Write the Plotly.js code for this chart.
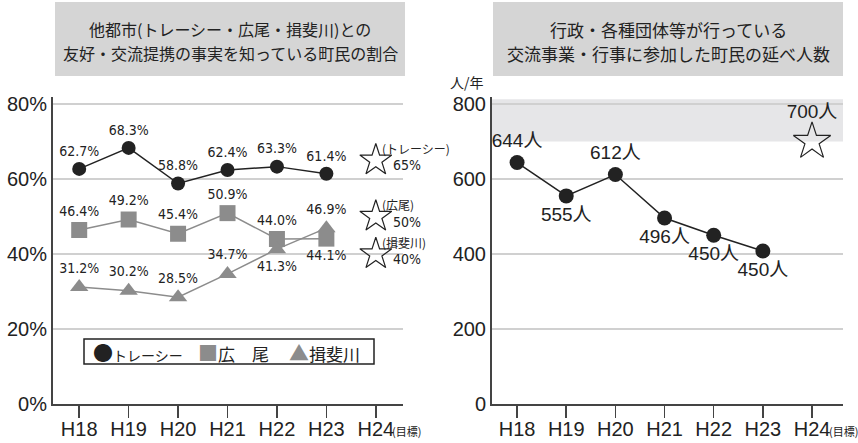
<!DOCTYPE html>
<html>
<head>
<meta charset="utf-8">
<script src="https://cdn.plot.ly/plotly-3.0.1.min.js"></script>
<style>html,body{margin:0;padding:0;background:#fff;}#chart{width:858px;height:443px;}</style>
</head>
<body>
<div id="chart"></div>
<script>
// ---- data ----
const yearTicks = ["H18", "H19", "H20", "H21", "H22", "H23", "H24"];
const years = ["H18", "H19", "H20", "H21", "H22", "H23"];
const tracy = [62.7, 68.3, 58.8, 62.4, 63.3, 61.4];
const hiroo = [46.4, 49.2, 45.4, 50.9, 44.0, 44.1];
const ibigawa = [31.2, 30.2, 28.5, 34.7, 41.3, 46.9];
const targetYear = "H24";
const targetPct = [65, 50, 40];
const targetNames = ["(トレーシー)", "(広尾)", "(揖斐川)"];
const legendNames = ["トレーシー", "広　尾", "揖斐川"];
const visitors = [644, 555, 612, 496, 450, 408];
const visitorLabels = ["644人", "555人", "612人", "496人", "450人", "450人"];
const visitorTarget = 700;
const pctTicks = [0, 20, 40, 60, 80];
const visTicks = [0, 200, 400, 600, 800];
const titleLeft = ["他都市(トレーシー・広尾・揖斐川)との", "友好・交流提携の事実を知っている町民の割合"];
const titleRight = ["行政・各種団体等が行っている", "交流事業・行事に参加した町民の延べ人数"];

// ---- helpers ----
const W = 858, H = 443;
const px = v => v / W;
const py = v => 1 - v / H;
const FONT = "Liberation Sans, Noto Sans CJK JP, sans-serif";
const NARROW = "Liberation Sans Narrow, DejaVu Sans Condensed, Noto Sans CJK JP, sans-serif";
const JP = "Noto Sans CJK JP, sans-serif";
const DARK = "#222222";
const GREY = "#8c8c8c";
const pct = a => a.map(v => v.toFixed(1) + "%");

const traces = [
  {x: years, y: tracy, xaxis: "x", yaxis: "y", mode: "lines+markers+text",
   line: {color: DARK, width: 1.5}, marker: {color: DARK, size: 14, symbol: "circle"},
   text: pct(tracy), textposition: "top center",
   textfont: {family: NARROW, size: 14, color: DARK}, name: "トレーシー", cliponaxis: false},
  {x: years, y: hiroo, xaxis: "x", yaxis: "y", mode: "lines+markers+text",
   line: {color: GREY, width: 1.5}, marker: {color: GREY, size: 16, symbol: "square"},
   text: pct(hiroo),
   textposition: ["top center", "top center", "top center", "top center", "top center", "bottom center"],
   textfont: {family: NARROW, size: 14, color: DARK}, name: "広尾", cliponaxis: false},
  {x: years, y: ibigawa, xaxis: "x", yaxis: "y", mode: "lines+markers+text",
   line: {color: GREY, width: 1.5}, marker: {color: GREY, size: 16, symbol: "triangle-up"},
   text: pct(ibigawa),
   textposition: ["top center", "top center", "top center", "top center", "bottom center", "top center"],
   textfont: {family: NARROW, size: 14, color: DARK}, name: "揖斐川", cliponaxis: false},
  {x: targetPct.map(() => targetYear), y: targetPct, xaxis: "x", yaxis: "y", mode: "markers",
   marker: {symbol: "star-open", size: 24, color: DARK, line: {color: DARK, width: 1.2}},
   name: "目標", cliponaxis: false},
  {x: years, y: visitors, xaxis: "x2", yaxis: "y2", mode: "lines+markers+text",
   line: {color: DARK, width: 1.5}, marker: {color: DARK, size: 15},
   text: visitorLabels,
   textposition: ["top center", "bottom center", "top center", "bottom center", "bottom center", "bottom center"],
   textfont: {family: FONT, size: 19, color: DARK}, name: "参加者", cliponaxis: false},
  {x: [targetYear], y: [visitorTarget], xaxis: "x2", yaxis: "y2", mode: "markers+text",
   marker: {symbol: "star-open", size: 28, color: DARK, line: {color: DARK, width: 1.2}},
   text: [visitorTarget + "人"], textposition: "top center",
   textfont: {family: FONT, size: 19, color: DARK}, name: "目標", cliponaxis: false}
];

const xCommon = {type: "category", categoryorder: "array", categoryarray: yearTicks,
  tickvals: yearTicks, ticktext: yearTicks,
  showline: true, linecolor: "#444", linewidth: 2, showgrid: false, zeroline: false,
  ticks: "outside", ticklen: 12, tickwidth: 1.5, tickcolor: "#444", ticklabelstandoff: -6,
  tickfont: {family: FONT, size: 20, color: DARK}, automargin: false, fixedrange: true};
const yCommon = {showline: true, linecolor: "#444", linewidth: 2, showgrid: true,
  gridcolor: "#d0d0d0", gridwidth: 1.5, zeroline: false, ticks: "", ticklen: 4,
  tickfont: {family: FONT, size: 20, color: DARK}, automargin: false, fixedrange: true};

const annotations = [];
// titles
[[titleLeft, 230, 16], [titleRight, 668, 17]].forEach(([lines, cx, fs]) => {
  lines.forEach((t, i) => annotations.push({xref: "paper", yref: "paper", x: px(cx), y: py(i === 0 ? 29 : 53),
    text: t, showarrow: false, xanchor: "center", yanchor: "middle",
    font: {family: JP, size: fs, color: DARK}}));
});
// target labels on left chart
targetPct.forEach((v, i) => {
  annotations.push({xref: "x", yref: "y", x: targetYear, y: v, text: targetNames[i], showarrow: false,
    xanchor: "left", yanchor: "middle", xshift: 4, yshift: 12,
    font: {family: JP, size: 12, color: DARK}});
  annotations.push({xref: "x", yref: "y", x: targetYear, y: v, text: v + "%", showarrow: false,
    xanchor: "left", yanchor: "middle", xshift: 15, yshift: -5,
    font: {family: NARROW, size: 14, color: DARK}});
});
// (目標) under H24
["x", "x2"].forEach(ax => annotations.push({xref: ax, yref: "paper", x: targetYear, y: py(431),
  text: "(目標)", showarrow: false, xanchor: "center", yanchor: "middle", xshift: 31,
  font: {family: JP, size: 11, color: DARK}}));
// unit
annotations.push({xref: "paper", yref: "paper", x: px(467), y: py(82), text: "人/年", showarrow: false,
  xanchor: "center", yanchor: "middle", font: {family: JP, size: 14, color: DARK}});
// legend items
const legSym = ["●", "■", "▲"];
const legCol = [DARK, GREY, GREY];
const legX = [91, 196, 287];
const legFs = [14, 17, 17];
legendNames.forEach((n, i) => annotations.push({xref: "paper", yref: "paper", x: px(legX[i]), y: py(352),
  text: "<span style='color:" + legCol[i] + ";font-size:20px'>" + legSym[i] + "</span>" + n,
  showarrow: false, xanchor: "left", yanchor: "middle",
  font: {family: JP, size: legFs[i], color: DARK}}));

const shapes = [
  {type: "rect", xref: "paper", yref: "paper", x0: px(55), x1: px(405), y0: py(76), y1: py(2),
   fillcolor: "#d5d5d5", line: {width: 0}, layer: "below"},
  {type: "rect", xref: "paper", yref: "paper", x0: px(493), x1: px(843), y0: py(76), y1: py(2),
   fillcolor: "#d5d5d5", line: {width: 0}, layer: "below"},
  {type: "rect", xref: "x2 domain", yref: "y2", x0: 0, x1: 1, y0: visitorTarget, y1: 813,
   fillcolor: "#e6e6e8", line: {width: 0}, layer: "below"},
  {type: "rect", xref: "paper", yref: "paper", x0: px(84), x1: px(374), y0: py(364), y1: py(339),
   fillcolor: "#ffffff", line: {color: DARK, width: 1.5}, layer: "above"}
];

const layout = {
  width: W, height: H, margin: {l: 0, r: 0, t: 0, b: 0},
  paper_bgcolor: "#ffffff", plot_bgcolor: "rgba(0,0,0,0)",
  showlegend: false, font: {family: FONT, color: DARK},
  xaxis: Object.assign({}, xCommon, {domain: [px(53), px(403)], range: [-0.53, 6.55], anchor: "y"}),
  yaxis: Object.assign({}, yCommon, {domain: [py(404), py(97)], range: [0, 81.87], anchor: "x",
    tickvals: pctTicks, ticktext: pctTicks.map(v => v + "%")}),
  xaxis2: Object.assign({}, xCommon, {domain: [px(492), px(843)], range: [-0.51, 6.63], anchor: "y2"}),
  yaxis2: Object.assign({}, yCommon, {domain: [py(404), py(97)], range: [0, 818.7], anchor: "x2",
    tickvals: visTicks, ticktext: visTicks.map(String)}),
  shapes: shapes, annotations: annotations
};

Plotly.newPlot("chart", traces, layout, {staticPlot: true, displayModeBar: false});
</script>
</body>
</html>
